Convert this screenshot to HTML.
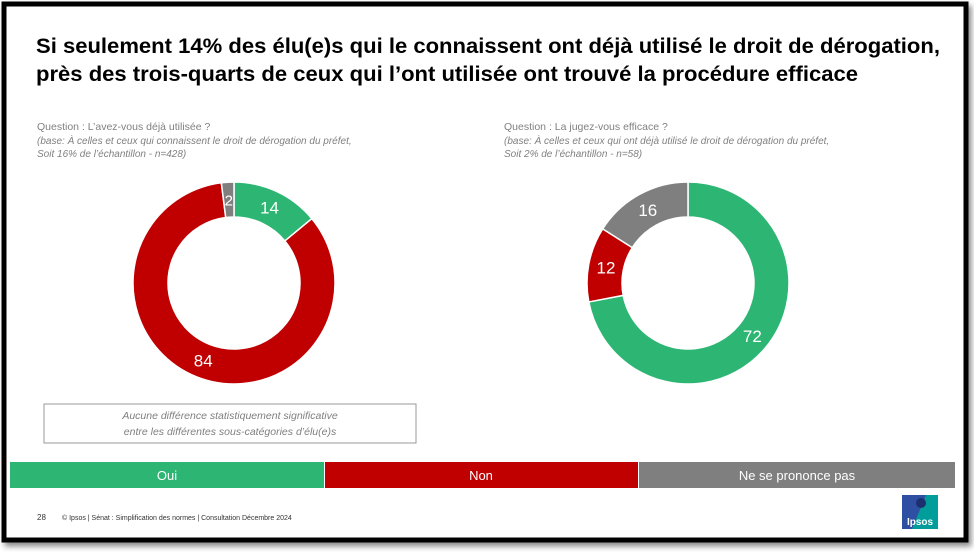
<!DOCTYPE html>
<html><head><meta charset="utf-8"><style>
body{margin:0;background:#fff;}
svg{display:block;font-family:"Liberation Sans",sans-serif;}
</style></head><body>
<svg id="chart" width="974" height="556" viewBox="0 0 974 556">
<defs><filter id="sh" x="-5%" y="-5%" width="110%" height="110%"><feDropShadow dx="3" dy="4" stdDeviation="3" flood-color="#000" flood-opacity="0.45"/></filter></defs>
<rect x="4" y="4" width="962" height="536" fill="#fff" stroke="#000" stroke-width="5" filter="url(#sh)"/>
<g font-weight="bold" font-size="21" fill="#000">
<text x="36" y="53" textLength="904" lengthAdjust="spacingAndGlyphs">Si seulement 14% des élu(e)s qui le connaissent ont déjà utilisé le droit de dérogation,</text>
<text x="36" y="81" textLength="822" lengthAdjust="spacingAndGlyphs">près des trois-quarts de ceux qui l’ont utilisée ont trouvé la procédure efficace</text>
</g>
<g fill="#808080" font-size="10.5">
<text x="37" y="130">Question : L’avez-vous déjà utilisée ?</text>
<text x="37" y="144" font-style="italic" font-size="10">(base: À celles et ceux qui connaissent le droit de dérogation du préfet,</text>
<text x="37" y="157" font-style="italic" font-size="10">Soit 16% de l’échantillon - n=428)</text>
</g>
<g fill="#808080" font-size="10.5">
<text x="504" y="130">Question : La jugez-vous efficace ?</text>
<text x="504" y="144" font-style="italic" font-size="10">(base: À celles et ceux qui ont déjà utilisé le droit de dérogation du préfet,</text>
<text x="504" y="157" font-style="italic" font-size="10">Soit 2% de l’échantillon - n=58)</text>
</g>
<g id="donuts"></g>
<rect x="44" y="404" width="372" height="39" fill="#fff" stroke="#999" stroke-width="1"/>
<g fill="#7f7f7f" font-size="10.5" font-style="italic" text-anchor="middle">
<text x="230" y="419">Aucune différence statistiquement significative</text>
<text x="230" y="435">entre les différentes sous-catégories d’élu(e)s</text>
</g>
<g font-size="13" fill="#fff" text-anchor="middle">
<rect x="10" y="462" width="314" height="26" fill="#2db673"/>
<rect x="325" y="462" width="313" height="26" fill="#c00000"/>
<rect x="639" y="462" width="316" height="26" fill="#7f7f7f"/>
<text x="167" y="480">Oui</text><text x="481" y="480">Non</text><text x="797" y="480">Ne se prononce pas</text>
</g>
<text x="37" y="520" font-size="8" fill="#333">28</text>
<text x="62" y="520" font-size="7" fill="#333">© Ipsos | Sénat : Simplification des normes | Consultation Décembre 2024</text>
<g>
<rect x="902" y="495" width="36" height="34" fill="#009d9a"/>
<path d="M902 495 H926 L912 529 H902 Z" fill="#2f4fa2"/>
<circle cx="921" cy="503" r="5" fill="#1c2f6e"/>
<text x="920" y="525" font-size="10" font-weight="bold" fill="#fff" text-anchor="middle">Ipsos</text>
</g>
</svg>
<script>
const categories=["Oui","Non","Ne se prononce pas"];
const colors=["#2db673","#c00000","#7f7f7f"];
const usedValues=[14,84,2];
const efficaceValues=[72,12,16];
const ns="http://www.w3.org/2000/svg";
const g=document.getElementById("donuts");
function pt(cx,cy,r,a){return [cx+r*Math.sin(a),cy-r*Math.cos(a)];}
function donut(vals,cx,cy,name){
 const R=101,r=66,tot=vals.reduce((a,b)=>a+b,0);let a0=0;
 vals.forEach((v,i)=>{
  const a1=a0+v/tot*2*Math.PI,lg=(a1-a0)>Math.PI?1:0;
  const p1=pt(cx,cy,R,a0),p2=pt(cx,cy,R,a1),p3=pt(cx,cy,r,a1),p4=pt(cx,cy,r,a0);
  const p=document.createElementNS(ns,"path");
  p.setAttribute("d",`M${p1} A${R},${R} 0 ${lg} 1 ${p2} L${p3} A${r},${r} 0 ${lg} 0 ${p4} Z`);
  p.setAttribute("fill",colors[i]);p.setAttribute("stroke","#fff");p.setAttribute("stroke-width","1.5");
  
  
  g.appendChild(p);
  const m=pt(cx,cy,(R+r)/2,(a0+a1)/2);
  const t=document.createElementNS(ns,"text");
  t.setAttribute("x",m[0]);t.setAttribute("y",m[1]+6);t.setAttribute("text-anchor","middle");
  t.setAttribute("fill","#fff");t.setAttribute("font-size",v<5?"15":"17");
  t.textContent=v;
  
  
  g.appendChild(t);
  a0=a1;
 });
}
donut(usedValues,234,283,"used-donut");
donut(efficaceValues,688,283,"efficace-donut");
</script>
</body></html>
